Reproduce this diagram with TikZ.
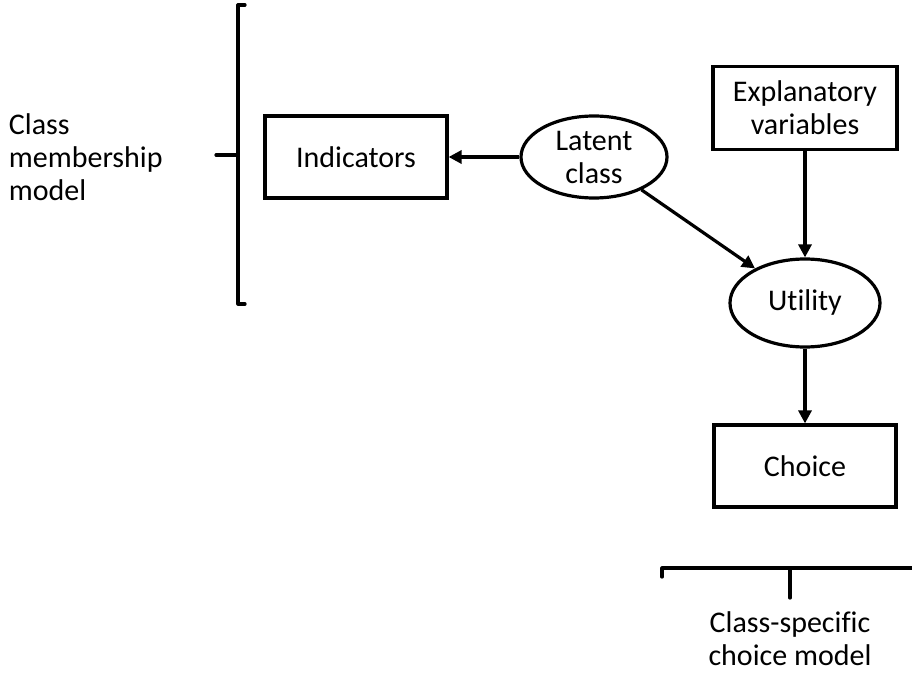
\documentclass[tikz,border=0pt]{standalone}
\usepackage{fontspec}
\setmainfont{Carlito}[Ligatures=NoCommon]
\usetikzlibrary{shapes.geometric,arrows.meta}

\begin{document}
\begin{tikzpicture}[x=1pt, y=-1pt, line width=3.2pt,
  font=\fontsize{30}{33}\selectfont,
  box/.style={draw, rectangle, minimum width=182pt, minimum height=82pt, align=center},
  blob/.style={draw, ellipse, minimum width=146pt, minimum height=82pt, align=center, inner sep=0pt},
  link/.style={-{Triangle[length=13pt, width=13pt]}},
  brace/.style={line width=3.2pt, line cap=round, line join=round}]
  \useasboundingbox (0,0) rectangle (912,676);

  % model nodes
  \node[box] (ind) at (356,157) {Indicators};
  \node[blob] (lat) at (594,157) {Latent\\class};
  \node[box, minimum width=184pt, minimum height=83pt] (expl) at (805,108) {Explanatory\\variables};
  \node[blob, minimum width=150pt, minimum height=88pt] (util) at (805,303) {Utility};
  \node[box] (cho) at (805,466) {Choice};

  % arrows
  \draw[link] (lat) -- (ind);
  \draw[link] (lat) -- (util);
  \draw[link] (expl) -- (util);
  \draw[link] (util) -- (cho);

  % left bracket
  \coordinate (ltop) at (238,5);
  \coordinate (lbot) at (238,304);
  \coordinate (lmid) at (238,155);
  \coordinate (ltick) at (216,155);
  \draw[brace] ([xshift=7pt]ltop) -- (ltop) -- (lbot) -- ([xshift=7pt]lbot);
  \draw[brace] (ltick) -- (lmid);
  \node[align=left, anchor=west] (memb) at (4,157) {Class\\membership\\model};

  % bottom bracket
  \coordinate (bleft) at (662,568);
  \coordinate (bright) at (912,568);
  \coordinate (bmid) at (790,568);
  \coordinate (btick) at (790,598);
  \draw[brace] ([yshift=-9pt]bleft) -- (bleft) -- (bright);
  \draw[brace] (bmid) -- (btick);
  \node[align=center] (spec) at (790,639) {Class-specific\\choice model};
\end{tikzpicture}
\end{document}
